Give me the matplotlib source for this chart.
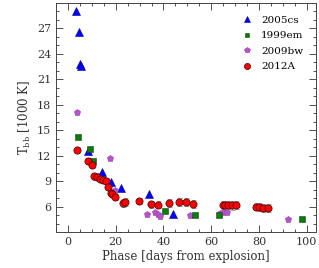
import numpy as np
import matplotlib
matplotlib.use('Agg')
import matplotlib.pyplot as plt
from matplotlib.ticker import MultipleLocator

plt.rcParams['font.family'] = 'DejaVu Serif'
plt.rcParams['mathtext.fontset'] = 'dejavuserif'

# ---- data ----
t_05cs = [3.5, 4.4, 5.0, 5.3, 8.3, 14.2, 17.9, 22.3, 34.0, 44.0]
T_05cs = [29.0, 26.5, 22.8, 22.5, 12.6, 10.05, 8.95, 8.2, 7.5, 5.2]

t_99em = [4.0, 9.0, 10.3, 40.5, 53.3, 63.3, 97.9]
T_99em = [14.25, 12.85, 11.4, 5.55, 5.07, 5.0, 4.55]

t_09bw = [3.9, 17.6, 19.6, 33.3, 36.4, 37.8, 38.6, 51.3, 63.7, 65.1, 66.5, 92.1]
T_09bw = [17.2, 11.7, 8.0, 5.2, 5.4, 5.15, 4.95, 5.07, 5.26, 5.38, 5.45, 4.6]

t_12A = [3.7, 8.2, 10.1, 11.0, 12.0, 13.3, 14.7, 16.0, 16.9, 17.9, 18.6, 19.7,
         23.0, 23.8, 29.7, 34.7, 37.5, 42.5, 46.6, 49.4, 52.3,
         64.8, 65.8, 66.9, 68.7, 70.4, 78.7, 80.1, 81.8, 84.0]
T_12A = [12.65, 11.45, 10.9, 9.6, 9.55, 9.3, 9.15, 9.05, 8.3, 7.6, 7.55, 7.2,
         6.45, 6.6, 6.7, 6.3, 6.25, 6.45, 6.55, 6.55, 6.35,
         6.25, 6.2, 6.25, 6.2, 6.25, 6.05, 6.0, 5.85, 5.9]
eT_12A = [0.35, 0.35, 0.35, 0.4, 0.4, 0.35, 0.35, 0.35, 0.35, 0.35, 0.35, 0.35,
          0.45, 0.45, 0.35, 0.4, 0.4, 0.45, 0.45, 0.45, 0.45,
          0.5, 0.5, 0.5, 0.5, 0.45, 0.45, 0.45, 0.45, 0.45]

fig = plt.figure(figsize=(3.19, 2.68), dpi=100)
ax = fig.add_axes([0.176, 0.134, 0.815, 0.855])

ax.errorbar(t_12A, T_12A, yerr=eT_12A, fmt='none', ecolor='#999999',
            elinewidth=0.7, capsize=1.8, capthick=0.7, zorder=1)
ax.plot(t_05cs, T_05cs, '^', color='#0000ff', ms=5.2, mec='#000080', mew=0.4,
        ls='none', label='2005cs', zorder=2)
ax.plot(t_09bw, T_09bw, 'p', color='#b454c8', ms=4.8, mec='#9a40b0', mew=0.4,
        ls='none', label='2009bw', zorder=2)
ax.plot(t_99em, T_99em, 's', color='#008000', ms=4.2, mec='#333333', mew=0.4,
        ls='none', label='1999em', zorder=3)
ax.plot(t_12A, T_12A, 'o', color='#ff0000', ms=5.2, mec='#400000', mew=0.5,
        ls='none', label='2012A', zorder=5)

ax.set_xlim(-5, 104)
ax.set_ylim(3.05, 29.95)
ax.xaxis.set_major_locator(MultipleLocator(20))
ax.xaxis.set_minor_locator(MultipleLocator(5))
ax.yaxis.set_major_locator(MultipleLocator(3))
ax.yaxis.set_minor_locator(MultipleLocator(1))
ax.tick_params(which='both', direction='in', top=True, right=True,
               labelsize=8, colors='#333333', width=0.6)
ax.tick_params(which='major', length=5)
ax.tick_params(which='minor', length=2.5)
for s in ax.spines.values():
    s.set_linewidth(0.7)
    s.set_color('#444444')

ax.set_xlabel('Phase [days from explosion]', fontsize=8.5, color='#333333', labelpad=2)
ax.set_ylabel(r'T$_{\rm bb}$ [1000 K]', fontsize=8.5, color='#333333', labelpad=3)

handles, labels = ax.get_legend_handles_labels()
order = [labels.index(n) for n in ['2005cs', '1999em', '2009bw', '2012A']]
ax.legend([handles[i] for i in order], [labels[i] for i in order],
          loc='upper right', frameon=False, fontsize=7.5, markerscale=0.85,
          handlelength=1.0, handletextpad=0.9, labelspacing=0.6,
          borderaxespad=0.8, numpoints=1)

fig.savefig('out.png', dpi=100)
